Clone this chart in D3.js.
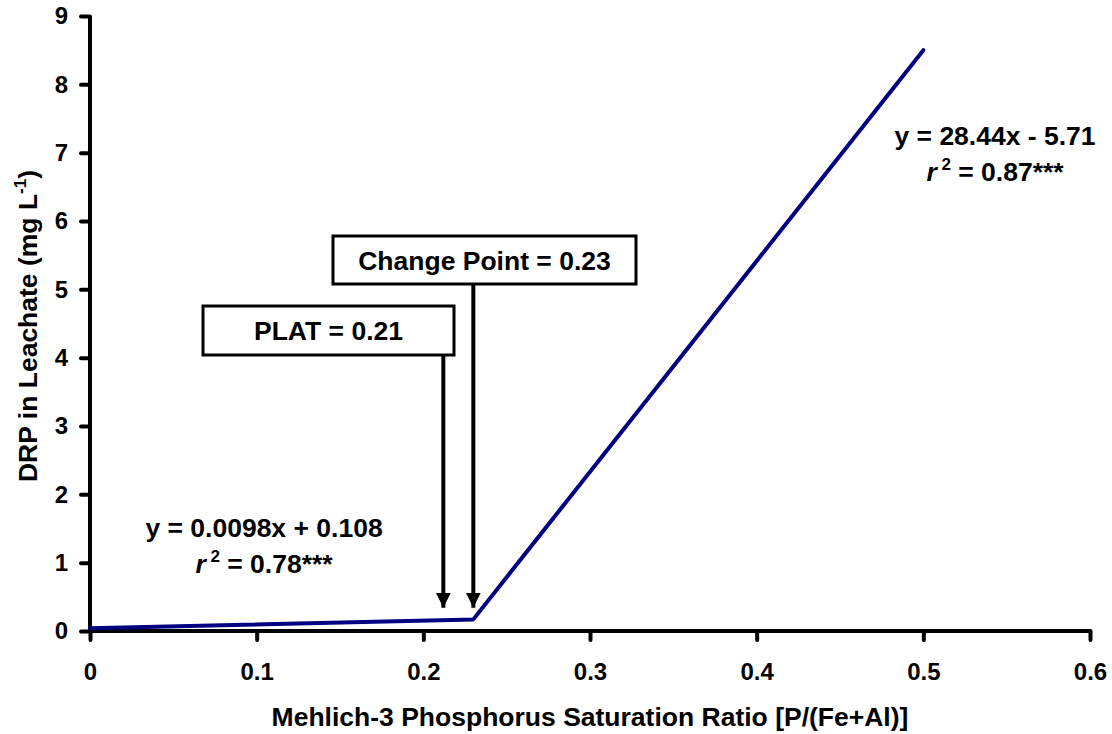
<!DOCTYPE html>
<html>
<head>
<meta charset="utf-8">
<script src="https://cdn.jsdelivr.net/npm/d3@7"></script>
<style>
  body { margin: 0; background: #fff; }
  text { font-family: "Liberation Sans", Arial, sans-serif; font-weight: bold; fill: #000; }
</style>
</head>
<body>
<script>
// data
const xTicks = [0, 0.1, 0.2, 0.3, 0.4, 0.5, 0.6];
const yTicks = [0, 1, 2, 3, 4, 5, 6, 7, 8, 9];
const lineX = [0, 0.23, 0.5];
const lineY = [0.04, 0.17, 8.5];
const markLabels = ["PLAT = 0.21", "Change Point = 0.23"];
const markX = [0.212, 0.23];
const markTipY = [0.34, 0.34];

const width = 1112, height = 734;
const margin = {top: 16, right: 22, bottom: 103, left: 90};

const xScale = d3.scaleLinear().domain([0, 0.6]).range([margin.left, width - margin.right]);
const yScale = d3.scaleLinear().domain([0, 9]).range([height - margin.bottom, margin.top]);

const svg = d3.select("body").append("svg")
    .attr("width", width)
    .attr("height", height);

//Axes
const bottomAxis = d3.axisBottom(xScale).tickValues(xTicks).tickSize(9).tickPadding(23)
    .tickFormat(d => d === 0 ? "0" : d3.format(".1f")(d));
const leftAxis = d3.axisLeft(yScale).tickValues(yTicks).tickSize(9).tickPadding(13)
    .tickFormat(d3.format("d"));

const gx = svg.append("g")
    .attr("transform", "translate(0," + yScale(0) + ")")
    .call(bottomAxis);
const gy = svg.append("g")
    .attr("transform", "translate(" + xScale(0) + ",0)")
    .call(leftAxis);

[gx, gy].forEach(g => {
    g.select(".domain").attr("stroke", "#000").attr("stroke-width", 4);
    g.selectAll(".tick line").attr("stroke", "#000").attr("stroke-width", 4).attr("stroke-linecap", "round");
    g.selectAll(".tick text").style("font-size", "24px").style("font-family", "Liberation Sans, Arial").style("font-weight", "bold");
});
gx.select(".domain").attr("d", "M" + xScale(0) + ",0H" + xScale(0.6));
gy.select(".domain").attr("d", "M0," + yScale(0) + "V" + yScale(9));

//Axis titles
svg.append("text")
    .attr("x", (xScale(0) + xScale(0.6)) / 2)
    .attr("y", 726)
    .attr("text-anchor", "middle")
    .style("font-size", "26.5px")
    .text("Mehlich-3 Phosphorus Saturation Ratio [P/(Fe+Al)]");

const yt = svg.append("text")
    .attr("transform", "translate(37," + 326 + ") rotate(-90)")
    .attr("text-anchor", "middle")
    .style("font-size", "26.5px");
yt.append("tspan").text("DRP in Leachate (mg L");
yt.append("tspan").attr("dy", -11).style("font-size", "17px").text("-1");
yt.append("tspan").attr("dy", 11).text(")");

//Fitted line
const pts = lineX.map((x, i) => ({x: x, y: lineY[i]}));
const line = d3.line().x(d => xScale(d.x)).y(d => yScale(d.y));
svg.append("path")
    .datum(pts)
    .attr("fill", "none")
    .attr("stroke", "#000080")
    .attr("stroke-width", 4)
    .attr("stroke-linejoin", "round")
    .attr("stroke-linecap", "round")
    .attr("d", line);

//Boxes with arrows
const boxes = [
    {x0: 203, x1: 454, y0: 306, y1: 355},
    {x0: 333, x1: 636, y0: 236, y1: 284}
];
svg.append("defs").append("marker")
    .attr("id", "head")
    .attr("viewBox", "0 0 10 10")
    .attr("refX", 10).attr("refY", 5)
    .attr("markerUnits", "userSpaceOnUse")
    .attr("markerWidth", 15).attr("markerHeight", 15)
    .attr("orient", "auto")
    .append("path").attr("d", "M0,0L10,5L0,10Z").attr("fill", "#000");

markLabels.forEach((lab, i) => {
    const b = boxes[i];
    svg.append("line")
        .attr("x1", xScale(markX[i])).attr("x2", xScale(markX[i]))
        .attr("y1", b.y1).attr("y2", yScale(markTipY[i]))
        .attr("stroke", "#000").attr("stroke-width", 4)
        .attr("marker-end", "url(#head)");
    svg.append("rect")
        .attr("x", b.x0).attr("y", b.y0)
        .attr("width", b.x1 - b.x0).attr("height", b.y1 - b.y0)
        .attr("fill", "#fff").attr("stroke", "#000").attr("stroke-width", 3);
    svg.append("text")
        .attr("x", (b.x0 + b.x1) / 2).attr("y", (b.y0 + b.y1) / 2 + 9.5)
        .attr("text-anchor", "middle")
        .style("font-size", "26.5px")
        .text(lab);
});

//Equations
const eqs = [
    {eq: "y = 0.0098x + 0.108", r2: "0.78***", cx: 264, y: 537},
    {eq: "y = 28.44x - 5.71", r2: "0.87***", cx: 995, y: 145}
];
eqs.forEach(e => {
    svg.append("text")
        .attr("x", e.cx).attr("y", e.y)
        .attr("text-anchor", "middle")
        .style("font-size", "26.5px")
        .text(e.eq);
    const t = svg.append("text")
        .attr("x", e.cx).attr("y", e.y + 36)
        .attr("text-anchor", "middle")
        .style("font-size", "26.5px");
    t.append("tspan").style("font-style", "italic").text("r");
    t.append("tspan").attr("dy", -11).style("font-size", "17px").text(" 2");
    t.append("tspan").attr("dy", 11).text("  = " + e.r2);
});
</script>
</body>
</html>
